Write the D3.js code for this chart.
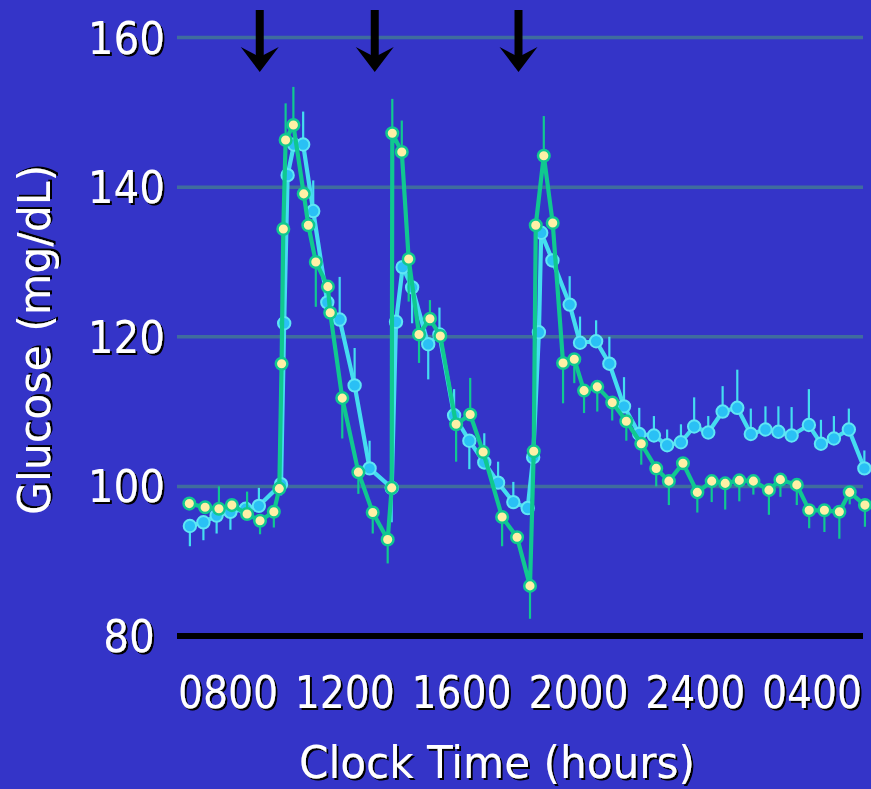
<!DOCTYPE html>
<html><head><meta charset="utf-8">
<script src="https://cdn.jsdelivr.net/npm/d3@7"></script>
<style>
html,body{margin:0;padding:0;background:#3434C8;overflow:hidden;}
svg{display:block;}
</style></head><body>
<svg id="chart" width="871" height="789"></svg>
<script>
// ---- data ----
const yTicks = [160, 140, 120, 100, 80];
const xTickLabels = ["0800", "1200", "1600", "2000", "2400", "0400"];
const mealTimes = [9, 13, 18];

// Series A (cyan line, blue markers): clock hour (24+ = next day), glucose, one-sided error (+ up / - down)
const blueTime = [6.57,7.04,7.50,7.98,8.51,8.97,9.74,9.85,9.97,10.19,10.51,10.86,11.35,11.78,12.30,12.82,13.59,13.74,13.97,14.30,14.86,15.25,15.76,16.29,16.81,17.29,17.82,18.32,18.51,18.71,18.79,19.18,19.78,20.14,20.70,21.16,21.67,22.20,22.71,23.17,23.65,24.11,24.60,25.10,25.61,26.08,26.59,27.04,27.50,28.10,28.52,28.97,29.49,30.03];
const blueValue = [94.7,95.2,96.1,96.6,97.0,97.4,100.3,121.8,141.6,145.7,145.7,136.8,124.6,122.3,113.5,102.4,99.8,122.0,129.3,126.6,119.0,120.3,109.5,106.1,103.2,100.5,97.9,97.1,103.9,120.6,133.9,130.2,124.3,119.2,119.4,116.4,110.7,107.0,106.8,105.5,105.9,108.0,107.2,110.0,110.5,107.0,107.6,107.3,106.8,108.2,105.7,106.4,107.6,102.4];
const blueErr = [-2.7,-2.4,-2.4,-2.4,0,2.4,-1.5,0,0,0,4.4,4.1,0,5.7,5.0,3.7,-4.6,0,0,-4.8,-4.7,3.6,3.5,-3.8,3.9,2.8,2.7,0,0,0,0,0,3.8,3.5,2.8,3.6,3.9,3.5,2.6,2.1,2.4,3.9,2.2,3.4,5.1,3.4,3.1,3.4,3.8,4.8,3.2,3.0,2.8,2.4];

// Series B (green line, yellow markers)
const greenTime = [6.55,7.10,7.58,8.03,8.56,9.01,9.49,9.68,9.76,9.82,9.90,10.17,10.53,10.69,10.95,11.37,11.45,11.87,12.43,12.93,13.45,13.59,13.61,13.94,14.18,14.54,14.92,15.28,15.83,16.32,16.77,17.43,17.95,18.40,18.53,18.60,18.88,19.19,19.55,19.94,20.28,20.74,21.26,21.75,22.27,22.79,23.23,23.72,24.22,24.72,25.19,25.68,26.17,26.71,27.11,27.68,28.11,28.64,29.16,29.52,30.05];
const greenValue = [97.7,97.2,97.0,97.5,96.3,95.4,96.6,99.7,116.4,134.4,146.3,148.3,139.1,134.9,130.0,126.7,123.2,111.8,101.9,96.5,92.9,99.8,147.2,144.7,130.4,120.3,122.4,120.1,108.3,109.6,104.6,95.9,93.2,86.7,104.7,134.9,144.2,135.2,116.5,117.0,112.8,113.3,111.2,108.7,105.7,102.4,100.7,103.1,99.2,100.7,100.4,100.8,100.7,99.5,100.9,100.2,96.8,96.8,96.6,99.2,97.5];
const greenErr = [0,0,3.0,0,3.0,-1.8,-2.1,0,0,0,4.9,5.1,0,0,-6.0,0,0,-5.4,-2.9,-2.8,-3.2,3.6,4.6,4.2,-5.7,-3.8,2.5,0,-5.0,4.9,0,-3.9,0,-4.4,0,0,5.3,0,-5.4,-3.2,-3.0,-3.3,-2.4,-2.6,-2.8,-2.4,-3.2,0,-2.7,-2.8,-3.5,-2.8,-1.8,-3.3,-2.3,-2.7,-2.4,-2.9,-3.6,-1.6,-2.9];

// ---- drawing ----
const svg = d3.select("#chart");
const W = 871, H = 789;
const defs = svg.append("defs");
const f = defs.append("filter").attr("id", "shadow")
  .attr("x", "-10%").attr("y", "-10%").attr("width", "130%").attr("height", "140%");
f.append("feDropShadow").attr("dx", 2).attr("dy", 2).attr("stdDeviation", 0)
  .attr("flood-color", "#000").attr("flood-opacity", 1);

svg.append("rect").attr("width", W).attr("height", H).attr("fill", "#3434C8");

const x = d3.scaleLinear().domain([8, 30]).range([231, 863.5]);
const y = d3.scaleLinear().domain([80, 160]).range([636, 37.5]);
const FONT = "'DejaVu Sans Condensed','DejaVu Sans',sans-serif";

function label(g, sx, sy, txt, anchor, size, opts = {}) {
  const t = g.append("text")
    .attr("x", sx).attr("y", sy)
    .attr("text-anchor", anchor)
    .attr("font-family", FONT)
    .attr("font-stretch", "condensed")
    .attr("font-size", size)
    .attr("fill", "#fff")
    .attr("filter", "url(#shadow)")
    .text(txt);
  if (opts.transform) t.attr("transform", opts.transform);
  if (opts.len) t.attr("textLength", opts.len).attr("lengthAdjust", "spacingAndGlyphs");
  return t;
}

// gridlines
svg.append("g").selectAll("line").data(yTicks.filter(v => v > 80)).join("line")
  .attr("x1", 177).attr("x2", 863)
  .attr("y1", d => y(d)).attr("y2", d => y(d))
  .attr("stroke", "#3F6C9E").attr("stroke-width", 3.5);

// baseline axis
svg.append("line").attr("x1", 177).attr("x2", 863)
  .attr("y1", y(80)).attr("y2", y(80))
  .attr("stroke", "#000").attr("stroke-width", 6);

// y tick labels
const lab = svg.append("g");
yTicks.forEach(v => {
  if (v === 80) label(lab, 129, y(v) + 16, String(v), "middle", 45);
  else label(lab, 165, y(v) + 16, String(v), "end", 45);
});
// x tick labels
const xl = d3.scalePoint().domain(xTickLabels).range([228, 812]);
xTickLabels.forEach(t => label(lab, xl(t), 708, t, "middle", 45, { len: 100 }));

// axis titles
label(lab, 497, 778, "Clock Time (hours)", "middle", 45, { len: 396 });
label(lab, 0, 0, "Glucose (mg/dL)", "middle", 45, { transform: "translate(50,340) rotate(-90)", len: 350 });

// meal arrows
const arr = svg.append("g");
mealTimes.forEach(t => {
  const cx = x(t);
  arr.append("rect").attr("x", cx - 4).attr("y", 10).attr("width", 8).attr("height", 50).attr("fill", "#000");
  arr.append("path")
    .attr("d", `M${cx - 19},47 L${cx},57 L${cx + 19},47 L${cx},72 Z`)
    .attr("fill", "#000");
});

function drawSeries(times, vals, errs, lineColor, fill, stroke, r, sw) {
  const pts = times.map((t, i) => ({ t, v: vals[i], e: errs[i] }));
  const g = svg.append("g");
  g.selectAll("line.err").data(pts.filter(p => p.e !== 0)).join("line")
    .attr("class", "err")
    .attr("x1", p => x(p.t)).attr("x2", p => x(p.t))
    .attr("y1", p => y(p.v)).attr("y2", p => y(p.v + p.e))
    .attr("stroke", lineColor).attr("stroke-width", 2.2);
  g.append("path").datum(pts)
    .attr("d", d3.line().x(p => x(p.t)).y(p => y(p.v)))
    .attr("fill", "none").attr("stroke", lineColor).attr("stroke-width", 4.2)
    .attr("stroke-linejoin", "round");
  g.selectAll("circle").data(pts).join("circle")
    .attr("cx", p => x(p.t)).attr("cy", p => y(p.v))
    .attr("r", r).attr("fill", fill).attr("stroke", stroke).attr("stroke-width", sw);
}

drawSeries(blueTime, blueValue, blueErr, "#45DDF0", "#2AC0F5", "#5FE6F5", 6.2, 2);
drawSeries(greenTime, greenValue, greenErr, "#10C890", "#FFF0A6", "#10C890", 5.8, 2.5);
</script>
</body></html>
